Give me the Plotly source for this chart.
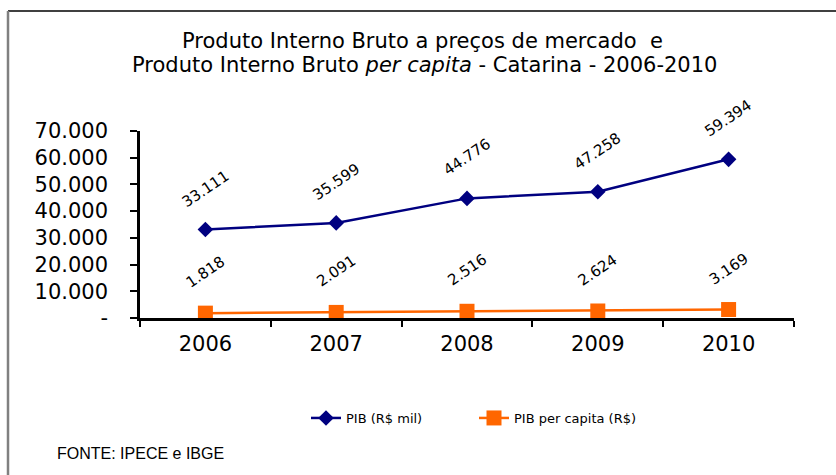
import plotly.graph_objects as go

# data
anos = ["2006", "2007", "2008", "2009", "2010"]
pib_mil = [33111, 35599, 44776, 47258, 59394]
pib_per_capita = [1818, 2091, 2516, 2624, 3169]
y_ticks = [0, 10000, 20000, 30000, 40000, 50000, 60000, 70000]
y_tick_text = ["-", "10.000", "20.000", "30.000", "40.000", "50.000", "60.000", "70.000"]

NAVY = "#000080"
ORANGE = "#FF6600"
FONT = "DejaVu Sans, Verdana, sans-serif"
FONT_NARROW = "Liberation Sans, Arial, sans-serif"

W, H = 836, 475
L, R, T, B = 140, 42, 131, 157
PW, PH = W - L - R, H - T - B


def px_x(x):
    return (x - L) / PW


def px_y(y):
    return (H - B - y) / PH


def fmt(v):
    return f"{v:,}".replace(",", ".")


fig = go.Figure()
fig.add_trace(go.Scatter(
    x=anos, y=pib_mil, name="PIB (R$ mil)", mode="lines+markers",
    line=dict(color=NAVY, width=2.5),
    marker=dict(symbol="diamond", size=12, color=NAVY),
    cliponaxis=False,
))
fig.add_trace(go.Scatter(
    x=anos, y=pib_per_capita, name="PIB per capita (R$)", mode="lines+markers",
    line=dict(color=ORANGE, width=2.5),
    marker=dict(symbol="square", size=15, color=ORANGE),
    cliponaxis=False,
))

# rotated value labels (category axis -> use the category index)
for serie in (pib_mil, pib_per_capita):
    for i, v in enumerate(serie):
        fig.add_annotation(
            x=i, y=v, xref="x", yref="y", text=fmt(v), showarrow=False,
            textangle=-34, yshift=41, font=dict(size=15, color="black", family=FONT),
        )

# two-line title
titulo = [
    ("Produto Interno Bruto a preços de mercado  e", 422, 41),
    ("Produto Interno Bruto <i>per capita</i> - Catarina - 2006-2010", 424, 65),
]
for txt, cx, cy in titulo:
    fig.add_annotation(
        x=px_x(cx), y=px_y(cy), xref="paper", yref="paper", text=txt,
        showarrow=False, xanchor="center", yanchor="middle",
        font=dict(size=21, color="black", family=FONT),
    )

fig.add_annotation(
    x=px_x(55), y=px_y(453), xref="paper", yref="paper", xanchor="left",
    yanchor="middle", text="FONTE: IPECE e IBGE", showarrow=False,
    font=dict(size=16, color="black", family=FONT_NARROW),
)

# frame lines around the chart (top and left only visible)
fig.add_shape(type="line", xref="paper", yref="paper",
              x0=px_x(8), x1=px_x(836), y0=px_y(11), y1=px_y(11),
              line=dict(color="black", width=1.5))
fig.add_shape(type="line", xref="paper", yref="paper",
              x0=px_x(8), x1=px_x(8), y0=px_y(11), y1=px_y(475),
              line=dict(color="#808080", width=2.5))

fig.update_layout(
    width=W, height=H,
    margin=dict(l=L, r=R, t=T, b=B, autoexpand=False),
    paper_bgcolor="white", plot_bgcolor="white",
    font=dict(family=FONT, color="black"),
    showlegend=True,
    legend=dict(
        orientation="h", x=px_x(306), xanchor="left", y=px_y(418), yanchor="middle",
        font=dict(size=13, family=FONT), entrywidth=123, entrywidthmode="pixels",
    ),
    xaxis=dict(
        type="category", range=[-0.5, 4.5], tickson="boundaries",
        showline=True, linecolor="black", linewidth=2.5,
        ticks="outside", ticklen=6, tickwidth=2, tickcolor="black",
        showgrid=False, zeroline=False, ticklabelstandoff=5,
        tickfont=dict(size=21, family=FONT),
    ),
    yaxis=dict(
        range=[0, 70000], tickvals=y_ticks, ticktext=y_tick_text,
        showline=True, linecolor="black", linewidth=2.5,
        ticks="outside", ticklen=7, tickwidth=2, tickcolor="black",
        showgrid=False, zeroline=False, ticklabelstandoff=18,
        tickfont=dict(size=21, family=FONT),
    ),
)

# drop the default page margin so the figure sits at the window origin
fig.write_html(
    "out.html",
    config={"displayModeBar": False},
    post_script="document.body.style.margin='0';",
)
